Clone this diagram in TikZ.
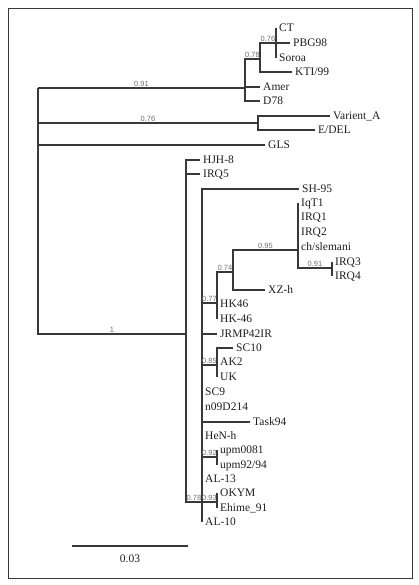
\documentclass[tikz,border=0pt]{standalone}
\usepackage{fontspec}
\setmainfont{Liberation Serif}
\newfontfamily\lblfont{Liberation Sans}
\definecolor{brc}{HTML}{383838}
\definecolor{lbc}{HTML}{6E6E6E}
\definecolor{txc}{HTML}{1E1E1E}
\tikzset{
  branch/.style={draw=brc, line width=1.35pt},
  tiplabel/.style={anchor=base west, inner sep=0pt, xshift=3pt, yshift=-3.8pt,
    font=\fontsize{11.5}{13}\selectfont, text=txc},
  support/.style={above, inner sep=0.9pt, font=\lblfont\fontsize{7.5}{8}\selectfont, text=lbc},
  framebox/.style={draw=brc, line width=0.9pt},
}
\newcommand\tipnode[4]{\coordinate (#1) at (#2,#3); \node[tiplabel] (#1-l) at (#1) {#4};}
\begin{document}
\begin{tikzpicture}[x=1pt,y=-1pt]
\useasboundingbox (0,0) rectangle (419,585);
\draw[framebox] (8,8) rectangle (412,578);

% internal nodes
\coordinate (R) at (38,88);
\coordinate (A) at (245,88);
\coordinate (B) at (260,59);
\coordinate (C) at (276,43);
\coordinate (V) at (258,123);
\coordinate (L) at (186,334);
\coordinate (M) at (202,502);
\coordinate (N) at (217,303);
\coordinate (K) at (233,272);
\coordinate (G) at (298,250);
\coordinate (H) at (332,268);
\coordinate (O) at (217,365);
\coordinate (P) at (217,457);
\coordinate (Q) at (217,502);

% tips
\tipnode{ct}{276}{28}{CT}
\tipnode{pbg}{290}{43}{PBG98}
\tipnode{soroa}{276}{58}{Soroa}
\tipnode{kti}{292}{72}{KTI/99}
\tipnode{amer}{260}{87}{Amer}
\tipnode{d78}{260}{101}{D78}
\tipnode{vara}{330}{116}{Varient\_A}
\tipnode{edel}{315}{130}{E/DEL}
\tipnode{gls}{265}{145}{GLS}
\tipnode{hjh}{200}{160}{HJH-8}
\tipnode{irq5}{200}{174}{IRQ5}
\tipnode{sh95}{299}{189}{SH-95}
\tipnode{iqt1}{298}{203}{IqT1}
\tipnode{irq1}{298}{217}{IRQ1}
\tipnode{irq2}{298}{232}{IRQ2}
\tipnode{chs}{298}{247}{ch/slemani}
\tipnode{irq3}{332}{262}{IRQ3}
\tipnode{irq4}{332}{276}{IRQ4}
\tipnode{xzh}{265}{290}{XZ-h}
\tipnode{hk46}{217}{304}{HK46}
\tipnode{hkm46}{217}{319}{HK-46}
\tipnode{jrmp}{217}{334}{JRMP42IR}
\tipnode{sc10}{233}{348}{SC10}
\tipnode{ak2}{217}{362}{AK2}
\tipnode{uk}{217}{377}{UK}
\tipnode{sc9}{202}{392}{SC9}
\tipnode{n09}{202}{407}{n09D214}
\tipnode{task}{250}{422}{Task94}
\tipnode{henh}{202}{436}{HeN-h}
\tipnode{upm1}{217}{450}{upm0081}
\tipnode{upm2}{217}{465}{upm92/94}
\tipnode{al13}{202}{479}{AL-13}
\tipnode{okym}{217}{493}{OKYM}
\tipnode{ehime}{217}{508}{Ehime\_91}
\tipnode{al10}{202}{522}{AL-10}

% root
\draw[branch] (R) |- (A) node[support, pos=0.75] {0.91};
\draw[branch] (R) |- (V) node[support, pos=0.75] {0.76};
\draw[branch] (R) |- (gls);
\draw[branch] (R) |- (L) node[support, pos=0.75] {1};

% top clade
\draw[branch] (A) |- (B) node[support, pos=0.75] {0.78};
\draw[branch] (A) |- (amer);
\draw[branch] (A) |- (d78);
\draw[branch] (B) |- (C) node[support, pos=0.75] {0.76};
\draw[branch] (B) |- (kti);
\draw[branch] (C) |- (ct);
\draw[branch] (C) |- (pbg);
\draw[branch] (C) |- (soroa);

% variant clade
\draw[branch] (V) |- (vara);
\draw[branch] (V) |- (edel);

% big clade
\draw[branch] (L) |- (hjh);
\draw[branch] (L) |- (irq5);
\draw[branch] (L) |- (M) node[support, pos=0.75] {0.78};

\draw[branch] (M) |- (sh95);
\draw[branch] (M) |- (N) node[support, pos=0.75] {0.77};
\draw[branch] (M) |- (jrmp);
\draw[branch] (M) |- (O) node[support, pos=0.75] {0.85};
\draw[branch] (M) |- (sc9);
\draw[branch] (M) |- (n09);
\draw[branch] (M) |- (task);
\draw[branch] (M) |- (henh);
\draw[branch] (M) |- (P) node[support, pos=0.75] {0.92};
\draw[branch] (M) |- (al13);
\draw[branch] (M) -- (Q) node[support, midway] {0.93};
\draw[branch] (M) |- (al10);

\draw[branch] (N) |- (hk46);
\draw[branch] (N) |- (hkm46);
\draw[branch] (N) |- (K) node[support, pos=0.75] {0.74};
\draw[branch] (K) |- (G) node[support, pos=0.75] {0.95};
\draw[branch] (K) |- (xzh);
\draw[branch] (G) |- (iqt1);
\draw[branch] (G) |- (irq1);
\draw[branch] (G) |- (irq2);
\draw[branch] (G) |- (chs);
\draw[branch] (G) |- (H) node[support, pos=0.75] {0.91};
\draw[branch] (H) |- (irq3);
\draw[branch] (H) |- (irq4);

\draw[branch] (O) |- (sc10);
\draw[branch] (O) |- (ak2);
\draw[branch] (O) |- (uk);
\draw[branch] (P) |- (upm1);
\draw[branch] (P) |- (upm2);
\draw[branch] (Q) |- (okym);
\draw[branch] (Q) |- (ehime);

% scale bar
\coordinate (sb1) at (72,546);
\coordinate (sb2) at (188,546);
\draw[branch] (sb1) -- (sb2);
\node[font=\fontsize{11.5}{13}\selectfont, text=txc] (sbl) at (130,559) {0.03};
\end{tikzpicture}
\end{document}
